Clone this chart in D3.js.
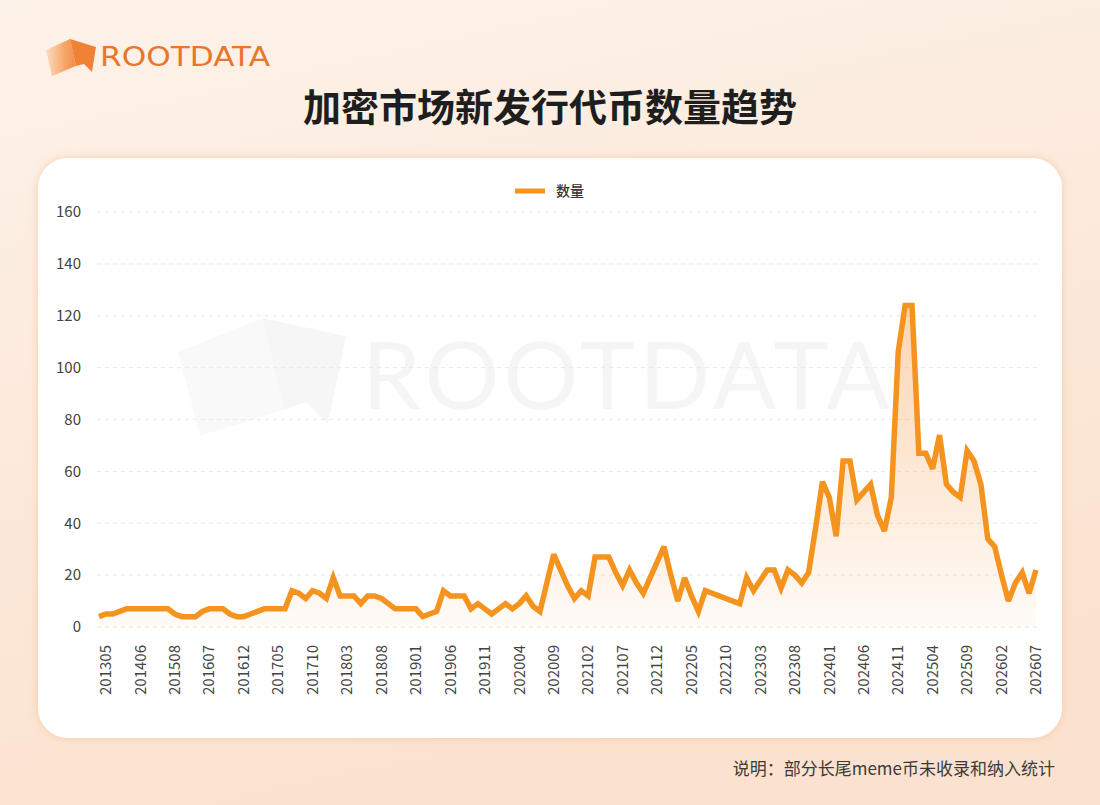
<!DOCTYPE html>
<html lang="zh-CN">
<head>
<meta charset="UTF-8">
<title>加密市场新发行代币数量趋势</title>
<style>
  html, body { margin: 0; padding: 0; }
  body { width: 1100px; height: 805px; overflow: hidden; font-family: "Noto Sans CJK SC", "Noto Sans", sans-serif; }
</style>
</head>
<body>
<div id="chart"></div>
<script src="https://cdn.jsdelivr.net/npm/d3@7"></script>
<script>
// months on the category axis (sparse before 2016-07, monthly after)
const months = [
  "201212", "201305", "201309", "201312", "201402", "201404", "201406", "201409",
  "201412", "201503", "201505", "201508", "201510", "201512", "201603", "201605",
  "201607", "201608", "201609", "201610", "201611", "201612",
  "201701", "201702", "201703", "201704", "201705", "201706", "201707", "201708", "201709", "201710", "201711", "201712",
  "201801", "201802", "201803", "201804", "201805", "201806", "201807", "201808", "201809", "201810", "201811", "201812",
  "201901", "201902", "201903", "201904", "201905", "201906", "201907", "201908", "201909", "201910", "201911", "201912",
  "202001", "202002", "202003", "202004", "202005", "202006", "202007", "202008", "202009", "202010", "202011", "202012",
  "202101", "202102", "202103", "202104", "202105", "202106", "202107", "202108", "202109", "202110", "202111", "202112",
  "202201", "202202", "202203", "202204", "202205", "202206", "202207", "202208", "202209", "202210", "202211", "202212",
  "202301", "202302", "202303", "202304", "202305", "202306", "202307", "202308", "202309", "202310", "202311", "202312",
  "202401", "202402", "202403", "202404", "202405", "202406", "202407", "202408", "202409", "202410", "202411", "202412",
  "202501", "202502", "202503", "202504", "202505", "202506", "202507", "202508", "202509", "202510", "202511", "202512",
  "202601", "202602", "202603", "202604", "202605", "202606", "202607"
];

// 数量 (number of newly issued tokens)
const counts = [
  4, 5, 5, 6, 7, 7, 7, 7, 7, 7, 7, 5, 4, 4, 4, 6, 7, 7, 7, 5, 4, 4, 5, 6, 7, 7, 7, 7,
  14, 13, 11, 14, 13, 11, 19, 12, 12, 12, 9, 12, 12, 11, 9, 7, 7, 7, 7, 4, 5, 6, 14, 12, 12, 12,
  7, 9, 7, 5, 7, 9, 7, 9, 12, 8, 6, 17, 28, 22, 16, 11, 14, 12, 27, 27, 27, 21, 16, 22, 17, 13, 19, 25,
  31, 20, 10, 19, 12, 6, 14, 13, 12, 11, 10, 9, 19, 14, 18, 22, 22, 15, 22, 20, 17, 21, 38,
  56, 50, 35, 64, 64, 49, 52, 55, 43, 37, 50, 106, 124, 124, 67, 67, 61, 74, 55, 52, 50, 68, 64, 55, 34, 31, 20, 10, 17, 21, 13, 22
];

const yTicks = [0, 20, 40, 60, 80, 100, 120, 140, 160];
const seriesName = "数量";
const title = "加密市场新发行代币数量趋势";
const note = "说明：部分长尾meme币未收录和纳入统计";

const W = 1100, H = 805;
const orange = "#f5931f";

const svg = d3.select("#chart").append("svg")
    .attr("width", W)
    .attr("height", H);

const defs = svg.append("defs");

// page background
const bg = defs.append("linearGradient").attr("id", "bg")
    .attr("x1", 0).attr("y1", 0).attr("x2", 0.3).attr("y2", 1);
bg.append("stop").attr("offset", 0).attr("stop-color", "#fdf2e9");
bg.append("stop").attr("offset", 1).attr("stop-color", "#fbe2cf");

const glow = defs.append("filter").attr("id", "glow")
    .attr("x", -0.05).attr("y", -0.05).attr("width", 1.1).attr("height", 1.1);
glow.append("feDropShadow")
    .attr("dx", 0).attr("dy", 0).attr("stdDeviation", 4)
    .attr("flood-color", "#f4b07e").attr("flood-opacity", 0.55);

const logoGrad = defs.append("linearGradient").attr("id", "logoGrad")
    .attr("x1", 0).attr("y1", 0).attr("x2", 1).attr("y2", 0);
logoGrad.append("stop").attr("offset", 0).attr("stop-color", "#fcd9bd");
logoGrad.append("stop").attr("offset", 0.6).attr("stop-color", "#f59a55");
logoGrad.append("stop").attr("offset", 1).attr("stop-color", "#ef7a2c");

svg.append("rect").attr("width", W).attr("height", H).attr("fill", "url(#bg)");

// logo
const logo = svg.append("g");
logo.append("path")
    .attr("d", "M46,50 L70,39 L76,66 L52,76 Z")
    .attr("fill", "url(#logoGrad)").attr("opacity", 0.85);
logo.append("path")
    .attr("d", "M70,39 L96,47 L92,72 L84,64 L76,66 Z")
    .attr("fill", "#f08236");
logo.append("text")
    .attr("x", 100).attr("y", 66)
    .attr("font-family", "'DejaVu Sans', sans-serif")
    .attr("font-size", 27)
    .attr("textLength", 170).attr("lengthAdjust", "spacingAndGlyphs")
    .attr("fill", "#e9762d")
    .text("ROOTDATA");

// title
svg.append("text")
    .attr("x", 550).attr("y", 121)
    .attr("text-anchor", "middle")
    .attr("font-size", 38).attr("font-weight", 700)
    .attr("fill", "#1e1e1e")
    .text(title);

// card
svg.append("rect")
    .attr("x", 38).attr("y", 158).attr("width", 1024).attr("height", 580)
    .attr("rx", 30)
    .attr("fill", "#ffffff")
    .attr("filter", "url(#glow)");

// watermark
const wm = svg.append("g").attr("fill", "#000");
wm.append("path").attr("d", "M178,352 L262,318 L284,410 L200,436 Z").attr("opacity", 0.025);
wm.append("path").attr("d", "M262,318 L346,336 L328,424 L306,402 L284,410 Z").attr("opacity", 0.035);
wm.append("text")
    .attr("x", 362).attr("y", 409)
    .attr("font-family", "Lato, 'DejaVu Sans', sans-serif")
    .attr("font-size", 94)
    .attr("textLength", 528).attr("lengthAdjust", "spacing")
    .attr("opacity", 0.035)
    .text("ROOTDATA");

// scales
const x = d3.scalePoint().domain(months).range([99, 1036]);
const y = d3.scaleLinear().domain([0, 160]).range([627, 212]);

// grid + y labels
svg.append("g").selectAll("line").data(yTicks).join("line")
    .attr("x1", 97).attr("x2", 1038)
    .attr("y1", d => y(d)).attr("y2", d => y(d))
    .attr("stroke", "#e8e8e8").attr("stroke-dasharray", "4,4");

svg.append("g").selectAll("text").data(yTicks).join("text")
    .attr("x", 81).attr("y", d => y(d))
    .attr("dy", "0.35em")
    .attr("text-anchor", "end")
    .attr("font-size", 15).attr("fill", "#444")
    .text(d => d);

// x labels, every 5th category
const xTicks = months.filter((m, i) => i % 5 === 1);
svg.append("g").selectAll("text").data(xTicks).join("text")
    .attr("transform", d => `translate(${x(d)},645) rotate(-90)`)
    .attr("dy", "0.35em")
    .attr("text-anchor", "end")
    .attr("font-size", 15).attr("fill", "#444")
    .text(d => d);

// area + line
const data = months.map((m, i) => ({ m: m, v: counts[i] }));

const areaGrad = defs.append("linearGradient").attr("id", "areaGrad")
    .attr("gradientUnits", "userSpaceOnUse")
    .attr("x1", 0).attr("y1", y(d3.max(counts))).attr("x2", 0).attr("y2", y(0));
areaGrad.append("stop").attr("offset", 0).attr("stop-color", "#f7963c").attr("stop-opacity", 0.4);
areaGrad.append("stop").attr("offset", 1).attr("stop-color", "#f7963c").attr("stop-opacity", 0.04);

svg.append("path").datum(data)
    .attr("fill", "url(#areaGrad)")
    .attr("d", d3.area().x(d => x(d.m)).y0(y(0)).y1(d => y(d.v)));

svg.append("path").datum(data)
    .attr("fill", "none")
    .attr("stroke", orange)
    .attr("stroke-width", 5.5)
    .attr("stroke-linejoin", "miter")
    .attr("stroke-miterlimit", 3)
    .attr("d", d3.line().x(d => x(d.m)).y(d => y(d.v)));

// legend
svg.append("line")
    .attr("x1", 515).attr("x2", 545).attr("y1", 191).attr("y2", 191)
    .attr("stroke", orange).attr("stroke-width", 5);
svg.append("text")
    .attr("x", 556).attr("y", 191).attr("dy", "0.35em")
    .attr("font-size", 14).attr("font-weight", 500).attr("fill", "#333")
    .text(seriesName);

// footnote
svg.append("text")
    .attr("x", 1055).attr("y", 775)
    .attr("text-anchor", "end")
    .attr("font-size", 17).attr("fill", "#3a3a3a")
    .text(note);
</script>
</body>
</html>
